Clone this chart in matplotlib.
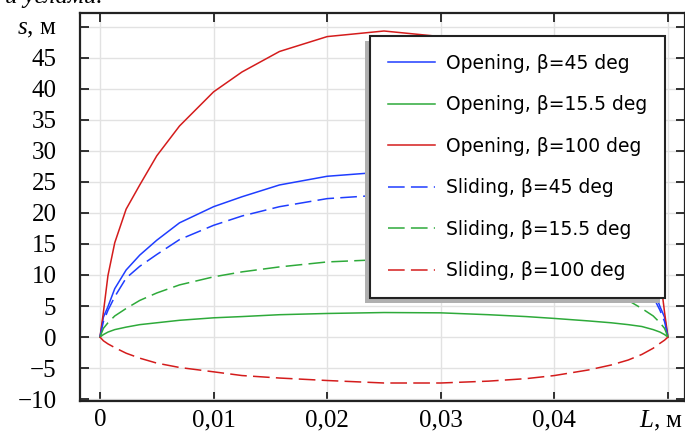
import matplotlib
matplotlib.use("Agg")
import matplotlib.pyplot as plt
from matplotlib.patches import Rectangle

plt.rcParams['mathtext.fontset'] = 'custom'
plt.rcParams['mathtext.it'] = 'Liberation Serif:italic'
plt.rcParams['mathtext.rm'] = 'Liberation Serif'
plt.rcParams['lines.scale_dashes'] = False

# ---- data ----
x = [0, 0.0003, 0.0007, 0.0013, 0.0023, 0.0035, 0.005, 0.007, 0.01, 0.0125, 0.0158,
     0.02, 0.025, 0.03, 0.0342, 0.0375, 0.04, 0.043, 0.045, 0.0465, 0.0477, 0.0487,
     0.0493, 0.0497, 0.05]

open_45 = [0, 3.2, 4.9, 7.8, 10.8, 13.2, 15.6, 18.4, 21.0, 22.6, 24.5,
           25.9, 26.6, 25.9, 24.5, 22.6, 21.0, 18.4, 15.6, 13.2, 10.8, 7.8,
           4.9, 3.2, 0]
open_15 = [0, 0.4, 0.8, 1.2, 1.6, 2.0, 2.3, 2.7, 3.1, 3.3, 3.6,
           3.8, 3.95, 3.9, 3.6, 3.3, 3.0, 2.6, 2.3, 2.0, 1.7, 1.2,
           0.8, 0.4, 0]
open_100 = [0, 4.0, 9.9, 15.2, 20.6, 24.5, 29.2, 34.0, 39.5, 42.7, 46.0,
            48.4, 49.3, 48.4, 46.0, 42.7, 39.5, 34.0, 29.2, 24.5, 20.6, 15.2,
            9.9, 4.0, 0]
slide_45 = [0, 2.5, 4.3, 6.5, 9.5, 11.4, 13.3, 15.7, 18.0, 19.5, 21.0,
            22.3, 22.9, 22.3, 21.0, 19.5, 18.0, 15.7, 13.3, 11.4, 9.5, 6.5,
            4.3, 2.5, 0]
slide_15 = [0, 1.4, 2.3, 3.4, 4.6, 5.9, 7.1, 8.4, 9.7, 10.5, 11.3,
            12.1, 12.5, 12.1, 11.3, 10.5, 9.7, 8.4, 7.1, 5.9, 4.6, 3.4,
            2.3, 1.4, 0]
slide_100 = [0, -0.6, -1.1, -1.7, -2.6, -3.4, -4.2, -4.9, -5.6, -6.2, -6.6,
             -7.0, -7.4, -7.4, -7.1, -6.7, -6.2, -5.3, -4.5, -3.7, -2.8, -1.8,
             -1.0, -0.5, 0]

labels = ["Opening, β=45 deg", "Opening, β=15.5 deg", "Opening, β=100 deg",
          "Sliding, β=45 deg", "Sliding, β=15.5 deg", "Sliding, β=100 deg"]

xticks = [0, 0.01, 0.02, 0.03, 0.04, 0.05]
xticklabels = ["0", "0,01", "0,02", "0,03", "0,04", ""]
x_axis_name = "$L$, м"
yticks = [-10, -5, 0, 5, 10, 15, 20, 25, 30, 35, 40, 45, 50]
yticklabels = ["\u221210", "\u22125", "0", "5", "10", "15", "20", "25", "30",
               "35", "40", "45", "$s$, м"]

blue = '#1f3dff'
green = '#2eaa3a'
red = '#d41c1c'

fig = plt.figure(figsize=(6.85, 4.32), dpi=100)
ax = fig.add_axes([80/685, 31/432, 605/685, 388/432])

lw = 1.1
dash = (12, 4.5)
ax.plot(x, open_45, color=blue, lw=lw, label=labels[0])
ax.plot(x, open_15, color=green, lw=lw, label=labels[1])
ax.plot(x, open_100, color=red, lw=lw, label=labels[2])
ax.plot(x, slide_45, color=blue, lw=lw, dashes=dash, label=labels[3])
ax.plot(x, slide_15, color=green, lw=lw, dashes=dash, label=labels[4])
ax.plot(x, slide_100, color=red, lw=lw, dashes=dash, label=labels[5])

ax.set_xlim(-0.00176, 0.0515)
ax.set_ylim(-10.3, 52.2)
ax.set_xticks(xticks)
ax.set_xticklabels(xticklabels)
ax.set_yticks(yticks)
ax.set_yticklabels(yticklabels)
ax.grid(True, color='#e2e2e2', lw=1.0)
ax.set_axisbelow(True)

for lab in ax.get_xticklabels() + ax.get_yticklabels():
    lab.set_family('Liberation Serif')
    lab.set_fontsize(18)

ax.annotate(x_axis_name, xy=(xticks[-1], 0), xycoords=('data', 'axes fraction'),
            xytext=(-5, -6), textcoords='offset points', ha='center', va='top',
            family='Liberation Serif', fontsize=18)

ax.tick_params(axis='both', direction='in', length=6.5, width=1.3, color='#222222',
               top=True, right=True)
ax.tick_params(axis='y', pad=17)
ax.tick_params(axis='x', pad=6)
for sp in ax.spines.values():
    sp.set_linewidth(1.6)
    sp.set_color('#222222')

# legend
leg = ax.legend(loc='upper left', bbox_to_anchor=((370-80)/605, (432-31-36)/388),
                frameon=True, fancybox=False, fontsize=13.5,
                handlelength=2.5, handletextpad=0.6, labelspacing=1.2,
                borderpad=0.95, borderaxespad=0.0)
leg.get_frame().set_edgecolor('#222222')
leg.get_frame().set_linewidth(1.5)
leg.get_frame().set_alpha(1)
leg.set_zorder(10)

fig.canvas.draw()
bb = leg.get_window_extent()
inv = fig.transFigure.inverted()
(x0, y0), (x1, y1) = inv.transform([[bb.x0, bb.y0], [bb.x1, bb.y1]])
sh = Rectangle((x0 - 5/685, y0 - 5/432), x1 - x0, y1 - y0, transform=fig.transFigure,
               facecolor='#b0b0b0', edgecolor='none', zorder=9)
ax.add_artist(sh)
sh.set_clip_on(False)

fig.text(5/685, 1 - 3/432, "и углами.", family='Liberation Serif', style='italic',
         fontsize=18, va='baseline', ha='left')

fig.savefig('out.png', dpi=100)
